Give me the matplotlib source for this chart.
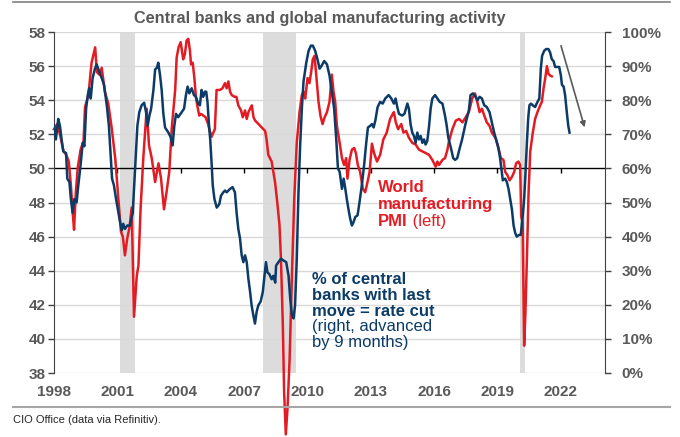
import matplotlib
matplotlib.use("Agg")
import matplotlib.pyplot as plt
import matplotlib.lines as mlines
from matplotlib.ticker import PercentFormatter

plt.rcParams['font.family'] = ['Liberation Sans', 'DejaVu Sans']

# World manufacturing PMI (left axis), decimal years
pmi_x = [1998.00, 1998.15, 1998.30, 1998.45, 1998.58, 1998.70, 1998.80, 1998.88, 1998.95, 1999.03,
         1999.12, 1999.26, 1999.40, 1999.47, 1999.63, 1999.78, 1999.95, 2000.03, 2000.15, 2000.26,
         2000.41, 2000.57, 2000.73, 2000.90, 2001.05, 2001.17, 2001.26, 2001.36, 2001.47, 2001.57,
         2001.68, 2001.79, 2001.92, 2002.00, 2002.10, 2002.23, 2002.39, 2002.50, 2002.63, 2002.79,
         2002.95, 2003.07, 2003.21, 2003.33, 2003.46, 2003.58, 2003.74, 2003.81, 2003.90, 2004.00,
         2004.12, 2004.20, 2004.28, 2004.36, 2004.44, 2004.49, 2004.57, 2004.65, 2004.72, 2004.80,
         2004.88, 2004.96, 2005.18, 2005.30, 2005.38, 2005.46, 2005.62, 2005.70, 2005.86, 2005.98,
         2006.10, 2006.18, 2006.26, 2006.34, 2006.42, 2006.55, 2006.64, 2006.73, 2006.86, 2006.94,
         2007.05, 2007.13, 2007.21, 2007.29, 2007.37, 2007.45, 2007.53, 2007.69, 2007.84, 2008.00,
         2008.07, 2008.15, 2008.31, 2008.47, 2008.56, 2008.68,
         2008.75, 2008.84, 2008.90, 2008.98, 2009.06, 2009.16, 2009.27, 2009.38, 2009.50, 2009.63,
         2009.74, 2009.82, 2009.90, 2010.01, 2010.10, 2010.18, 2010.26, 2010.34, 2010.42, 2010.53,
         2010.62, 2010.72, 2010.82, 2010.93, 2011.05, 2011.16, 2011.24, 2011.32, 2011.40, 2011.53,
         2011.64, 2011.74, 2011.84, 2011.90, 2012.00, 2012.11, 2012.22, 2012.30, 2012.39, 2012.50,
         2012.63, 2012.74, 2012.85, 2012.95, 2013.06, 2013.16, 2013.30, 2013.45, 2013.60, 2013.76,
         2013.92, 2014.05, 2014.10, 2014.19, 2014.30, 2014.45, 2014.55, 2014.68, 2014.81, 2014.97,
         2015.13, 2015.29, 2015.45, 2015.60, 2015.76, 2015.92, 2016.08, 2016.16, 2016.24, 2016.40,
         2016.52, 2016.63, 2016.71, 2016.87, 2017.03, 2017.19, 2017.35, 2017.50, 2017.65, 2017.81,
         2017.94, 2018.05, 2018.16, 2018.27, 2018.38, 2018.50, 2018.63, 2018.74, 2018.85, 2018.94,
         2019.05, 2019.17, 2019.29, 2019.37, 2019.48, 2019.58, 2019.69, 2019.80, 2019.89, 2020.00,
         2020.08, 2020.13, 2020.20, 2020.27, 2020.33, 2020.40, 2020.48, 2020.56, 2020.68, 2020.79,
         2020.90, 2021.03, 2021.11, 2021.19, 2021.27, 2021.35, 2021.42, 2021.50, 2021.58]
pmi_y = [52.3, 52.6, 51.9, 51.0, 50.8, 50.4, 49.0, 47.5, 46.4, 48.5,
         50.0, 51.1, 51.6, 53.6, 54.3, 56.2, 57.1, 55.65, 55.5, 55.9,
         54.5, 53.8, 52.4, 50.6, 48.2, 46.3, 46.0, 44.9, 45.9, 46.5,
         47.7, 41.3, 43.7, 44.3, 47.6, 50.6, 53.5, 51.35, 50.6, 49.2,
         50.3, 49.4, 47.6, 48.6, 49.8, 52.4, 54.6, 56.5, 57.1, 57.4,
         56.4, 56.7, 57.5, 57.6, 56.9, 56.1, 56.2, 55.3, 54.2, 53.6,
         53.1, 53.2, 53.0, 52.6, 52.2, 51.85, 52.3, 54.6, 54.6, 54.7,
         55.0, 54.7, 55.1, 54.5, 54.3, 54.2, 54.2, 53.7, 53.4, 53.0,
         53.4, 52.9, 53.3, 53.5, 53.7, 53.0, 52.8, 52.6, 52.4, 52.2,
         51.7, 50.8, 50.4, 49.2, 48.2, 46.7,
         44.7, 40.8, 36.9, 34.4, 35.9, 38.8, 43.7, 48.2, 51.5, 53.3,
         54.3, 54.5, 54.1, 55.3, 55.0, 55.65, 56.4, 56.6, 55.5, 53.9,
         53.1, 52.6, 53.0, 53.3, 53.9, 55.5, 54.5, 53.9, 52.5, 51.5,
         50.6, 50.2, 50.6, 49.4, 50.5, 51.1, 51.2, 50.9, 50.2, 49.8,
         48.8, 48.6, 49.2, 49.8, 51.45, 50.9, 50.4, 50.8, 51.7, 52.1,
         52.9, 53.2, 53.3, 52.7, 52.3, 52.6, 52.1, 52.2, 51.8, 51.5,
         51.4, 51.1, 51.0, 50.9, 50.8, 50.5, 50.1, 50.4, 50.2, 50.5,
         50.6, 51.06, 51.6, 52.3, 52.8, 52.9, 52.7, 53.0, 53.3, 54.1,
         54.4, 53.9, 53.3, 53.5, 53.1, 52.7, 52.5, 52.1, 51.9, 51.7,
         51.2, 50.6, 50.5, 49.8, 49.6, 49.3, 49.5, 49.8, 50.3, 50.4,
         50.2, 47.2, 46.8, 39.6, 41.5, 44.7, 48.6, 51.0, 52.1, 52.9,
         53.3, 53.7, 53.9, 54.7, 55.3, 56.0, 55.55, 55.45, 55.4]

# % of central banks with last move = rate cut (right axis, advanced 9 months)
cb_x = [1998.00, 1998.09, 1998.20, 1998.28, 1998.36, 1998.44, 1998.57, 1998.63, 1998.73, 1998.80,
        1998.88, 1998.96, 1999.07, 1999.15, 1999.26, 1999.36, 1999.44, 1999.52, 1999.60, 1999.67,
        1999.74, 1999.83, 1999.94, 2000.02, 2000.15, 2000.26, 2000.37, 2000.50, 2000.60, 2000.69,
        2000.75, 2000.84, 2000.94, 2001.05, 2001.13, 2001.21, 2001.28, 2001.36, 2001.47, 2001.60,
        2001.73, 2001.80, 2001.89, 2001.95, 2002.04, 2002.15, 2002.27, 2002.36, 2002.44, 2002.52,
        2002.60, 2002.71, 2002.79, 2002.87, 2002.94, 2003.02, 2003.10, 2003.18, 2003.26, 2003.42,
        2003.52, 2003.62, 2003.70, 2003.78, 2003.88, 2004.05, 2004.16, 2004.25, 2004.33, 2004.41,
        2004.52, 2004.63, 2004.72, 2004.83, 2004.91, 2004.99, 2005.07, 2005.15, 2005.21, 2005.27,
        2005.35, 2005.40, 2005.47, 2005.52, 2005.60, 2005.71, 2005.83, 2005.91, 2006.02,
        2006.10, 2006.18, 2006.26, 2006.34, 2006.46, 2006.57, 2006.65, 2006.73, 2006.81, 2006.89,
        2006.97, 2007.05, 2007.13, 2007.21, 2007.29, 2007.36, 2007.44, 2007.52, 2007.60, 2007.68,
        2007.79, 2007.89, 2007.97, 2008.04, 2008.11, 2008.20, 2008.31, 2008.39, 2008.48, 2008.52,
        2008.63, 2008.75, 2008.87, 2009.00, 2009.11, 2009.19, 2009.27, 2009.35, 2009.42, 2009.50,
        2009.58, 2009.66, 2009.74, 2009.82, 2009.95, 2010.06, 2010.17, 2010.26, 2010.37, 2010.48,
        2010.58, 2010.69, 2010.80, 2010.93, 2011.05, 2011.16, 2011.27, 2011.37, 2011.45, 2011.53,
        2011.64, 2011.72, 2011.80, 2011.87, 2011.95, 2012.03, 2012.11, 2012.19, 2012.27, 2012.38,
        2012.47, 2012.58, 2012.69, 2012.79, 2012.87, 2012.98, 2013.06, 2013.14, 2013.22, 2013.33,
        2013.45, 2013.57, 2013.69, 2013.85, 2013.98, 2014.10, 2014.18, 2014.26, 2014.34, 2014.49,
        2014.60, 2014.74, 2014.81, 2014.89, 2014.97, 2015.05, 2015.13, 2015.21, 2015.29, 2015.37,
        2015.45, 2015.53, 2015.60, 2015.68, 2015.76, 2015.84, 2015.92, 2016.05, 2016.16, 2016.27,
        2016.40, 2016.52, 2016.59, 2016.68, 2016.80, 2016.91, 2017.00, 2017.10, 2017.20, 2017.33,
        2017.49, 2017.65, 2017.73, 2017.84, 2017.97, 2018.06, 2018.16, 2018.27,
        2018.38, 2018.50, 2018.63, 2018.74, 2018.85, 2018.94, 2019.05, 2019.13, 2019.21, 2019.26,
        2019.37, 2019.45, 2019.53, 2019.61, 2019.69, 2019.77, 2019.85, 2019.92, 2020.03, 2020.11,
        2020.19, 2020.27, 2020.33, 2020.40, 2020.46, 2020.52, 2020.59, 2020.68, 2020.79, 2020.90,
        2020.99, 2021.06, 2021.12, 2021.22, 2021.31, 2021.42, 2021.50, 2021.58, 2021.66, 2021.74,
        2021.82, 2021.93, 2022.01, 2022.06, 2022.14, 2022.21, 2022.29, 2022.36, 2022.42]
cb_pct = [72.5, 68.5, 74.5, 72.5, 68.5, 65.0, 64.5, 57.0, 56.0, 51.0,
          47.0, 51.0, 50.0, 55.0, 61.0, 67.5, 66.5, 77.5, 81.5, 83.5,
          80.5, 86.5, 89.25, 90.5, 88.25, 86.5, 84.5, 78.5, 72.5, 63.0,
          57.0, 55.0, 51.0, 47.0, 44.25, 41.85, 43.75, 42.25, 43.25, 43.25,
          47.0, 55.0, 64.8, 72.5, 76.5, 78.5, 79.25, 76.5, 72.5, 75.5,
          77.5, 83.0, 89.0, 89.5, 91.0, 87.5, 83.0, 76.0, 72.0, 70.5,
          69.25, 66.75, 72.5, 76.0, 75.0, 76.5, 77.5, 81.5, 84.0, 82.0,
          83.5, 81.5, 81.0, 79.0, 78.5, 83.0, 81.0, 82.5, 82.5, 79.5,
          72.0, 68.5, 61.0, 55.0, 51.0, 48.5, 49.5, 52.0, 53.0,
          53.5, 53.0, 53.5, 54.0, 54.5, 53.0, 47.0, 42.25, 39.5, 34.5,
          32.5, 34.5, 32.5, 27.5, 23.75, 19.85, 17.0, 14.5, 18.0, 19.85,
          21.0, 23.75, 28.5, 32.5, 29.5, 29.0, 27.5, 28.5, 26.5, 31.5,
          32.5, 33.5, 33.0, 32.5, 28.5, 21.75, 17.0, 16.0, 20.0, 33.5,
          53.0, 66.75, 77.5, 85.5, 91.0, 94.5, 96.0, 96.0, 94.5, 92.0,
          89.25, 90.25, 91.5, 90.5, 87.25, 82.5, 77.5, 68.5, 60.0, 59.0,
          54.0, 57.0, 54.0, 51.0, 48.0, 45.25, 43.25, 44.25, 45.75, 46.25,
          50.0, 55.0, 61.0, 67.5, 72.0, 72.5, 73.0, 72.0, 74.0, 78.0,
          79.5, 79.0, 80.5, 81.5, 80.5, 79.0, 80.5, 78.0, 76.0, 75.5,
          76.0, 79.0, 77.5, 73.0, 70.5, 69.5, 67.5, 70.5, 68.5, 69.5,
          67.5, 68.5, 67.0, 68.0, 72.0, 77.5, 80.5, 81.5, 80.5, 79.5,
          79.0, 75.5, 73.0, 69.0, 66.0, 63.0, 62.5, 63.0, 65.5, 68.5,
          73.0, 77.0, 81.5, 82.0, 81.0, 80.0, 81.0, 80.5,
          78.5, 78.0, 76.5, 73.5, 70.5, 68.5, 66.0, 63.0, 59.0, 56.5,
          57.0, 56.0, 54.0, 51.0, 48.0, 43.25, 41.0, 40.0, 40.5, 40.5,
          45.25, 51.0, 58.0, 67.5, 74.5, 78.5, 79.0, 78.5, 78.0, 79.5,
          80.5, 89.25, 93.0, 94.5, 95.0, 95.0, 94.0, 92.0, 91.5, 89.75,
          89.75, 89.75, 87.25, 84.5, 84.0, 81.5, 76.5, 72.5, 70.5]

# recessions (shaded)
recessions = [(2001.13, 2001.84), (2007.90, 2009.47), (2020.08, 2020.32)]

years = [1998, 2001, 2004, 2007, 2010, 2013, 2016, 2019, 2022]

RED = '#E31B23'
BLUE = '#0B3B66'
GREY = '#595959'

fig = plt.figure(figsize=(6.8, 4.37), dpi=100)
ax = fig.add_axes([54 / 680, 64 / 437, 551 / 680, 341 / 437])
ax2 = ax.twinx()

for a, b in recessions:
    ax.axvspan(a, b, color='#DCDCDC', lw=0, zorder=0)

for g in range(38, 59, 2):
    if g != 50:
        ax.axhline(g, color='#D9D9D9', lw=1.0, zorder=0.5)
ax.axhline(50, color='black', lw=1.0, zorder=1)
ax.vlines(years[1:], 49.75, 50, color='black', lw=1.0, zorder=1)

ax.plot(pmi_x, pmi_y, color=RED, lw=1.8, clip_on=False, zorder=3)
ax2.plot(cb_x, [v / 100 for v in cb_pct], color=BLUE, lw=1.8, zorder=3)

ax.set_xlim(1998, 2024.1)
ax.set_ylim(38, 58)
ax2.set_ylim(0, 1)
ax.set_xticks(years)
ax.set_xticklabels([str(y) for y in years])
ax.set_yticks(range(38, 59, 2))
ax2.set_yticks([i / 10 for i in range(11)])
ax2.yaxis.set_major_formatter(PercentFormatter(1.0, decimals=0))

for a in (ax, ax2):
    for s in a.spines.values():
        s.set_visible(False)
ax.spines['left'].set_visible(True)
ax.spines['left'].set_color('#404040')
ax2.spines['right'].set_visible(True)
ax2.spines['right'].set_color('#404040')

ax.tick_params(axis='x', length=0, pad=9, labelsize=11, labelcolor=GREY)
ax.tick_params(axis='y', length=4, width=1, color='#404040', pad=2, labelsize=11, labelcolor=GREY)
ax2.tick_params(axis='y', length=4, width=1, color='#404040', pad=8, labelsize=11, labelcolor=GREY)
for lbl in ax.get_xticklabels() + ax.get_yticklabels() + ax2.get_yticklabels():
    lbl.set_fontweight('bold')

# annotations
t1 = ax.text(2013.36, 49.3, 'World\nmanufacturing', color=RED, fontsize=12,
             fontweight='bold', ha='left', va='top', linespacing=1.1, zorder=5)
t_pmi = ax.annotate('PMI', xy=(0, 0), xycoords=t1, xytext=(0, -1.5), textcoords='offset points',
                    ha='left', va='top', color=RED, fontsize=12, fontweight='bold', zorder=5)
ax.annotate(' (left)', xy=(1, 0), xycoords=t_pmi, ha='left', va='bottom',
            color=RED, fontsize=12, zorder=5)
t2 = ax.text(2010.23, 43.95, '% of central\nbanks with last\nmove = rate cut', color=BLUE,
             fontsize=12, fontweight='bold', ha='left', va='top', linespacing=1.1, zorder=5)
ax.annotate('(right, advanced\nby 9 months)', xy=(0, 0), xycoords=t2, ha='left', va='top',
            color=BLUE, fontsize=12, linespacing=1.1, zorder=5)

ax.annotate('', xy=(2023.17, 52.25), xytext=(2021.98, 57.35),
            arrowprops=dict(arrowstyle='-|>', color=GREY, lw=1.2, mutation_scale=8))

fig.text(320 / 680, 1 - 18 / 437, 'Central banks and global manufacturing activity',
         ha='center', va='center', fontsize=11.7, fontweight='bold', color=GREY)
fig.add_artist(mlines.Line2D([13 / 680, 670 / 680], [1 - 2 / 437, 1 - 2 / 437],
                             color='#808080', lw=1.2))
fig.add_artist(mlines.Line2D([13 / 680, 670 / 680], [1 - 407 / 437, 1 - 407 / 437],
                             color='#A6A6A6', lw=1.5))
fig.text(13 / 680, 1 - 420 / 437, 'CIO Office (data via Refinitiv).', ha='left', va='center',
         fontsize=8, color='#262626')

fig.savefig('out.png', dpi=100)
